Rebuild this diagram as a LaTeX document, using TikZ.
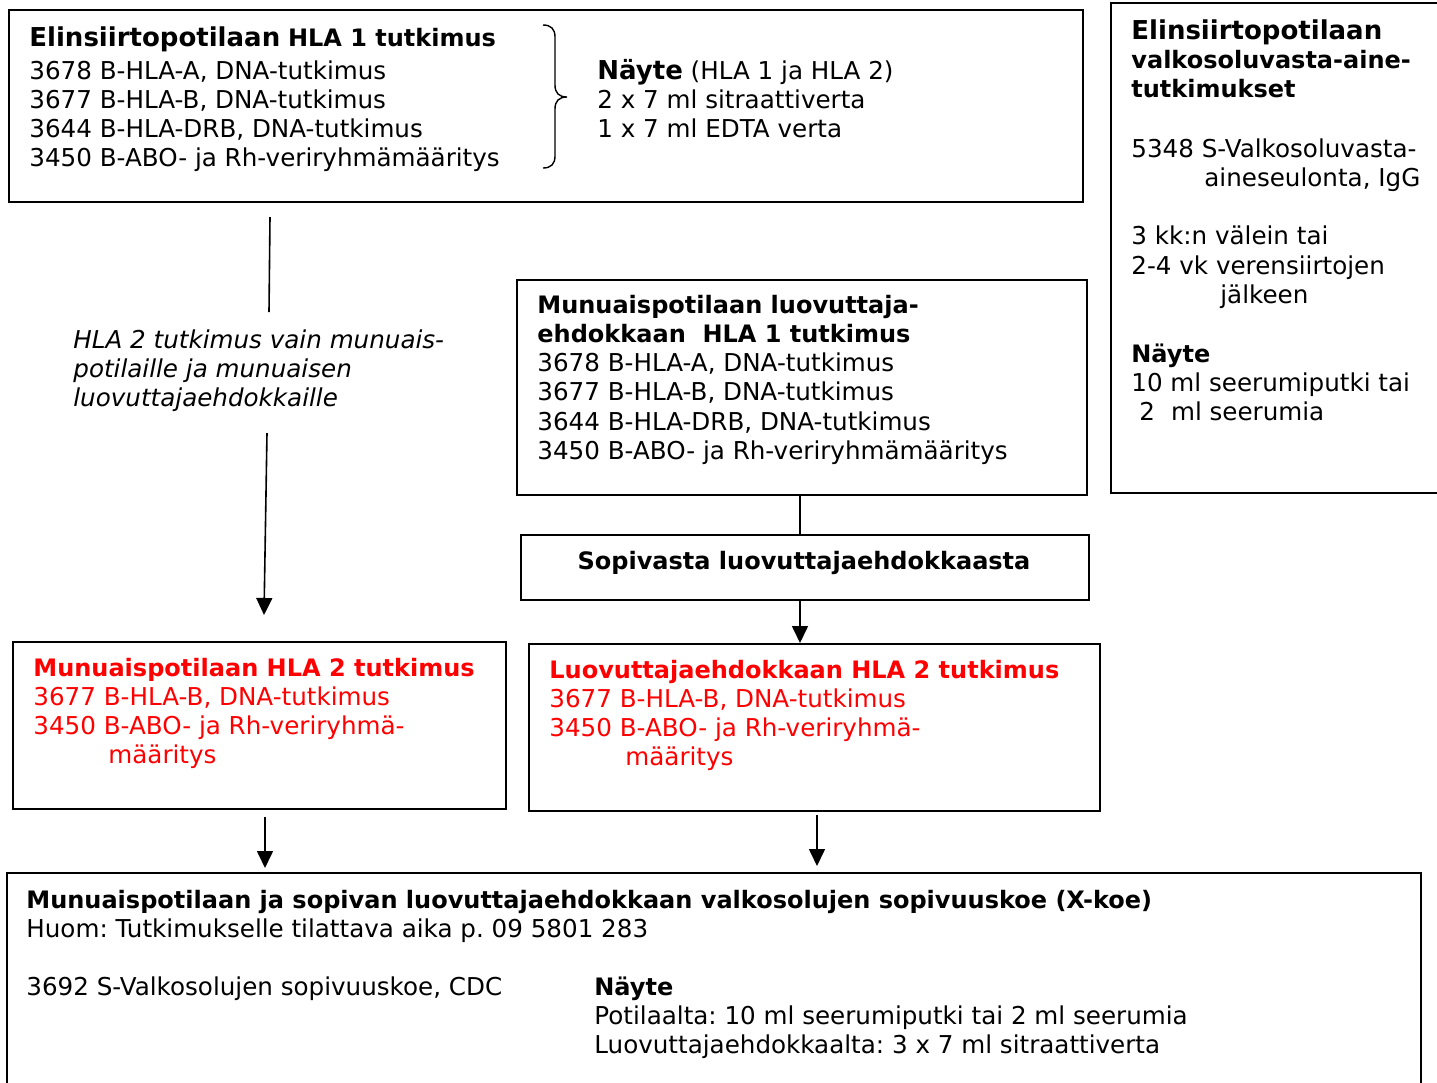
\documentclass[tikz,border=0pt]{standalone}
\usepackage{fontspec}
\setmainfont{DejaVu Sans}
\frenchspacing
\usetikzlibrary{arrows.meta}
\definecolor{hred}{RGB}{255,0,0}
\newcommand{\fs}{\fontsize{12.3}{14.65}\selectfont}
\newcommand{\bfs}{\fontsize{12}{14.65}\selectfont\bfseries}
\newcommand{\bigb}{\fontsize{13}{14.65}\selectfont\bfseries}
\begin{document}
\begin{tikzpicture}[x=0.5pt,y=-0.5pt,
  box/.style={draw, line width=1pt, inner sep=0pt, anchor=north west},
  txt/.style={anchor=base west, align=left, inner sep=0pt, font=\fs},
  arr/.style={-{Triangle[length=8.5pt,width=8pt]}, line width=0.8pt},
  conn/.style={line width=0.8pt}]
\useasboundingbox (0,0) rectangle (1437,1083);
% boxes
\node[box, minimum width=537pt, minimum height=96pt] (A) at (8,9) {};
\node[box, minimum width=170pt, minimum height=245pt] (R) at (1110,2) {};
\node[box, minimum width=285pt, minimum height=107.5pt] (B) at (516,279) {};
\node[box, minimum width=284pt, minimum height=32.5pt] (C) at (520,534) {};
\node[box, minimum width=246.5pt, minimum height=83.5pt] (D) at (12,641) {};
\node[box, minimum width=285.5pt, minimum height=83.5pt] (E) at (528,643) {};
\node[box, minimum width=707pt, minimum height=110pt] (F) at (6,872) {};
% box A (base anchor = baseline of the last line)
\node[txt] (Atitle) at (29,46) {{\bigb Elinsiirtopotilaan} {\bfs HLA 1 tutkimus}};
\node[txt] (Alist) at (29,166.9) {3678 B-HLA-A, DNA-tutkimus\\3677 B-HLA-B, DNA-tutkimus\\3644 B-HLA-DRB, DNA-tutkimus\\3450 B-ABO- ja Rh-veriryhmämääritys};
\draw[line width=0.7pt] (543,25) .. controls (551,25) and (555,29) .. (555,37) -- (555,85)
  .. controls (555,93) and (559,97) .. (567,97) .. controls (559,97) and (555,101) .. (555,109)
  -- (555,156) .. controls (555,164) and (551,168) .. (543,168);
\node[txt] (Anayte) at (597,137.6) {{\bigb Näyte} (HLA 1 ja HLA 2)\\2 x 7 ml sitraattiverta\\1 x 7 ml EDTA verta};
% box R
\node[txt] (Rtitle) at (1131,97.6) {{\bigb Elinsiirtopotilaan}\\\bfs valkosoluvasta-aine-\\\bfs tutkimukset};
\node[txt] (Rlist) at (1131,420.7) {5348 S-Valkosoluvasta-\\\hspace*{36.5pt}aineseulonta, IgG\\[14.65pt]3 kk:n välein tai\\2-4 vk verensiirtojen\\\hspace*{44.5pt}jälkeen\\[14.65pt]{\bfs Näyte}\\10 ml seerumiputki tai\\\hspace*{4pt}2\hspace*{8pt}ml seerumia};
% box B
\node[txt] (Btext) at (537,459.5) {\bfs Munuaispotilaan luovuttaja-\\\bfs ehdokkaan\ \ HLA 1 tutkimus\\3678 B-HLA-A, DNA-tutkimus\\3677 B-HLA-B, DNA-tutkimus\\3644 B-HLA-DRB, DNA-tutkimus\\3450 B-ABO- ja Rh-veriryhmämääritys};
% box C
\node[anchor=base, inner sep=0pt, font=\bfs] (Ctext) at (804,569) {Sopivasta luovuttajaehdokkaasta};
% note
\node[txt, font=\fs\itshape] (note) at (73,406.6) {HLA 2 tutkimus vain munuais-\\potilaille ja munuaisen\\luovuttajaehdokkaille};
% box D
\node[txt, text=hred] (Dtext) at (33,763.9) {\bfs Munuaispotilaan HLA 2 tutkimus\\3677 B-HLA-B, DNA-tutkimus\\3450 B-ABO- ja Rh-veriryhmä-\\\hspace*{37.5pt}määritys};
% box E
\node[txt, text=hred] (Etext) at (549,765.9) {\bfs Luovuttajaehdokkaan HLA 2 tutkimus\\3677 B-HLA-B, DNA-tutkimus\\3450 B-ABO- ja Rh-veriryhmä-\\\hspace*{38pt}määritys};
% box F
\node[txt] (Ftext) at (26,995.9) {\bfs Munuaispotilaan ja sopivan luovuttajaehdokkaan valkosolujen sopivuuskoe (X-koe)\\Huom: Tutkimukselle tilattava aika p. 09 5801 283\\[14.65pt]3692 S-Valkosolujen sopivuuskoe, CDC};
\node[txt] (Fnayte) at (594,1053.6) {\bfs Näyte\\Potilaalta: 10 ml seerumiputki tai 2 ml seerumia\\Luovuttajaehdokkaalta: 3 x 7 ml sitraattiverta};
% connectors
\coordinate (l1a) at (270,217);
\coordinate (l1b) at (269,312);
\coordinate (l2a) at (267,433);
\coordinate (l2b) at (264,615);
\draw[conn] (l1a) -- (l1b);
\draw[arr] (l2a) -- (l2b);
\coordinate (bc) at (800,494);
\draw[conn] (bc) -- (bc |- C.north);
\coordinate (ce) at (800,599);
\draw[arr] (ce) -- (ce |- E.north);
\coordinate (d1) at (265,817);
\coordinate (d2) at (265,868);
\draw[arr] (d1) -- (d2);
\coordinate (e1) at (817,815);
\coordinate (e2) at (817,866);
\draw[arr] (e1) -- (e2);
\end{tikzpicture}
\end{document}
